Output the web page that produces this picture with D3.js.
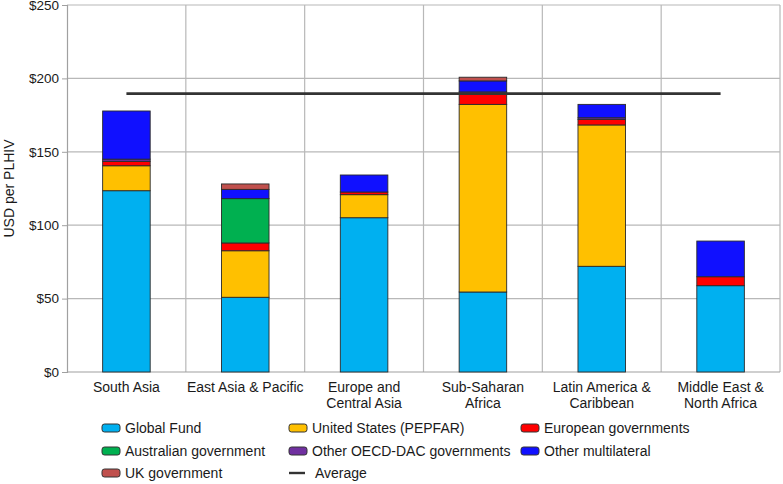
<!DOCTYPE html>
<html><head><meta charset="utf-8">
<script src="https://cdn.jsdelivr.net/npm/d3@7"></script>
<style>
body{margin:0;background:#fff;}
text{font-family:"Liberation Sans",Arial,Helvetica,sans-serif;fill:#1a1a1a;}
</style></head>
<body><svg id="c" width="783" height="484"></svg>
<script>
const categories = ["South Asia","East Asia & Pacific","Europe and\nCentral Asia","Sub-Saharan\nAfrica","Latin America &\nCaribbean","Middle East &\nNorth Africa"];
const seriesNames = ["Global Fund","United States (PEPFAR)","European governments","Australian government","Other OECD-DAC governments","Other multilateral","UK government"];
const globalFund      = [123.5, 50.9, 105.1, 54.5, 72.0, 58.8];
const pepfar          = [17.0, 31.7, 15.7, 127.8, 96.3, 0];
const european        = [3.0, 5.3, 1.8, 7.5, 3.8, 6.1];
const australian      = [0, 30.2, 0, 0, 0, 0];
const otherOECD       = [1.5, 0, 0, 1.0, 1.1, 0];
const otherMultilat   = [32.8, 6.3, 11.6, 7.5, 9.1, 24.3];
const ukGov           = [0, 3.7, 0, 2.5, 0, 0];
const averageValue    = 189.6;
const yTicks = [0,50,100,150,200,250];
const colors = ["#00b0f0","#ffc000","#ff0000","#00b050","#7030a0","#1010ff","#c0504d"];

const seriesValues = [globalFund,pepfar,european,australian,otherOECD,otherMultilat,ukGov];
const rows = categories.map((c,i)=>{const r={cat:c}; seriesNames.forEach((s,j)=>r[s]=seriesValues[j][i]); return r;});
const stack = d3.stack().keys(seriesNames)(rows);

const svg = d3.select("#c");
const m = {l:67, r:3, t:5, b:112};
const W = 783, H = 484;
const x = d3.scaleBand().domain(categories).range([m.l, W-m.r]).paddingInner(0).paddingOuter(0);
const y = d3.scaleLinear().domain([0,250]).range([H-m.b, m.t]);

// gridlines
const g = svg.append("g");
g.selectAll("line.h").data(yTicks.slice(1)).join("line")
 .attr("x1",m.l).attr("x2",W-m.r).attr("y1",d=>y(d)).attr("y2",d=>y(d))
 .attr("stroke","#b8b8b8").attr("stroke-width",1.2);
g.selectAll("line.v").data(categories.slice(1).concat(["__end"])).join("line")
 .attr("x1",(d,i)=> i<categories.length-1 ? x(d) : W-m.r).attr("x2",(d,i)=> i<categories.length-1 ? x(d) : W-m.r)
 .attr("y1",m.t).attr("y2",y(0))
 .attr("stroke","#b8b8b8").attr("stroke-width",1.2);

// y axis
const ya = svg.append("g").attr("transform",`translate(${m.l},0)`)
 .call(d3.axisLeft(y).tickValues(yTicks).tickFormat(d=>"$"+d).tickSize(5).tickPadding(3));
ya.select(".domain").attr("stroke","#a0a0a0").attr("stroke-width",1.2);
ya.selectAll(".tick line").attr("stroke","#a0a0a0");
ya.selectAll(".tick text").attr("font-size","13.5px").attr("fill","#1a1a1a");

// x axis baseline
svg.append("line").attr("x1",m.l).attr("x2",W-m.r).attr("y1",y(0)).attr("y2",y(0)).attr("stroke","#a0a0a0").attr("stroke-width",1.2);

// bars
const bw = x.bandwidth()*0.4;
svg.append("g").selectAll("g").data(stack).join("g").attr("fill",(d,i)=>colors[i])
 .selectAll("rect").data(d=>d).join("rect")
 .attr("x",d=>x(d.data.cat)+x.bandwidth()/2-bw/2).attr("width",bw)
 .attr("y",d=>y(d[1])).attr("height",d=>Math.max(0,y(d[0])-y(d[1])))
 .attr("stroke",d=>(d[1]-d[0])>0?"#2a2a2a":"none").attr("stroke-width",0.9);

// average line
svg.append("line")
 .attr("x1",x(categories[0])+x.bandwidth()/2).attr("x2",x(categories[categories.length-1])+x.bandwidth()/2)
 .attr("y1",y(averageValue)).attr("y2",y(averageValue))
 .attr("stroke","#333").attr("stroke-width",2.6);

// x labels
const xl = svg.append("g");
categories.forEach(c=>{
  const lines = c.split("\n");
  const t = xl.append("text").attr("text-anchor","middle").attr("font-size","14px")
   .attr("x",x(c)+x.bandwidth()/2).attr("y",y(0)+20);
  lines.forEach((ln,k)=>t.append("tspan").attr("x",x(c)+x.bandwidth()/2).attr("dy",k?16:0).text(ln));
});

// y label
svg.append("text").attr("transform",`translate(14,${(m.t+y(0))/2}) rotate(-90)`)
 .attr("text-anchor","middle").attr("font-size","14px").text("USD per PLHIV");

// legend
const legendItems = seriesNames.slice(0,6).map((s,i)=>({name:s,color:colors[i],type:"rect"}))
  .concat([{name:seriesNames[6],color:colors[6],type:"rect"},{name:"Average",color:"#333",type:"line"}]);
const colX = [102, 289, 521];
const rowY = [428, 451, 473];
const lg = svg.append("g");
legendItems.forEach((d,i)=>{
  const cx = colX[i%3], cy = rowY[Math.floor(i/3)];
  if(d.type==="rect"){
    lg.append("rect").attr("x",cx).attr("y",cy-4).attr("width",18).attr("height",8).attr("rx",2.5)
      .attr("fill",d.color).attr("stroke","#333").attr("stroke-width",1);
  } else {
    lg.append("line").attr("x1",cx).attr("x2",cx+16).attr("y1",cy).attr("y2",cy).attr("stroke",d.color).attr("stroke-width",2.4);
  }
  lg.append("text").attr("x",cx+(d.type==="line"?26:23)).attr("y",cy+5).attr("font-size","14px").text(d.name);
});
</script></body></html>
